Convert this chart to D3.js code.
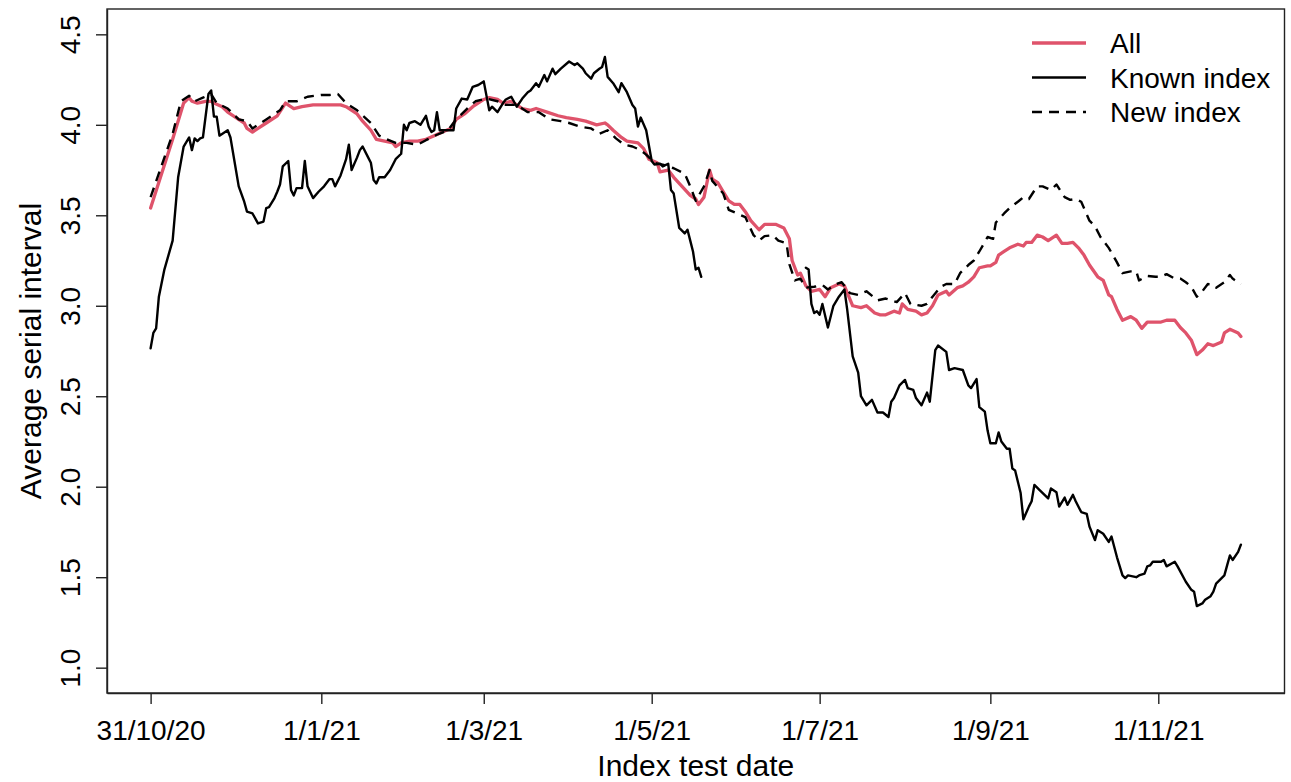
<!DOCTYPE html>
<html><head><meta charset="utf-8">
<script src="https://cdn.jsdelivr.net/npm/d3@7"></script>
<style>
body{margin:0;background:#fff}
svg{display:block}
text{font-family:"Liberation Sans",Arial,Helvetica,sans-serif;fill:#000}
</style>
</head><body>
<svg id="chart" width="1291" height="782"></svg>
<script>
// ---- data (day offsets from the first index test date, 31/10/20) ----
const startDate = "2020-10-31";
const lastDay = 396;

const allDays = [0,8,12,14,15,17,20,22,23,26,28,31,34,35,37,39,42,46,49,52,55,59,64,69,71,75,77,80,82,85,88,89,91,94,97,100,103,106,109,111,114,117,121,123,126,128,131,133,135,138,140,144,148,151,155,158,162,165,166,168,171,173,177,179,181,184,185,188,190,193,196,198,199,201,203,204,206,208,210,212,214,216,218,221,223,225,227,230,232,233,235,236,238,240,243,245,247,250,252,255,258,260,263,265,267,270,272,273,275,278,280,282,284,286,289,290,293,295,297,299,301,304,305,307,308,310,312,315,317,318,320,322,324,326,329,331,333,335,337,339,341,344,346,348,349,351,353,356,358,360,362,364,367,369,372,374,376,378,380,382,384,386,389,390,392,395,396];
const allValues = [3.54,3.92,4.12,4.15,4.13,4.12,4.13,4.13,4.12,4.10,4.07,4.04,4.01,3.98,3.96,3.98,4.01,4.05,4.12,4.09,4.10,4.11,4.11,4.11,4.10,4.06,4.02,3.97,3.92,3.91,3.90,3.88,3.90,3.91,3.91,3.92,3.94,3.96,3.98,4.03,4.06,4.10,4.14,4.15,4.14,4.12,4.13,4.11,4.09,4.08,4.09,4.07,4.05,4.04,4.03,4.02,4.00,4.01,4.00,3.97,3.93,3.91,3.90,3.87,3.81,3.79,3.74,3.75,3.71,3.66,3.61,3.59,3.56,3.60,3.75,3.70,3.68,3.63,3.58,3.56,3.56,3.52,3.47,3.42,3.45,3.45,3.45,3.43,3.37,3.25,3.17,3.18,3.11,3.08,3.09,3.05,3.10,3.12,3.11,3.00,2.99,3.00,2.96,2.95,2.95,2.97,2.96,3.01,2.98,2.97,2.95,2.96,3.00,3.06,3.08,3.06,3.10,3.11,3.13,3.16,3.21,3.22,3.22,3.24,3.28,3.30,3.32,3.34,3.33,3.35,3.35,3.39,3.38,3.36,3.39,3.345,3.345,3.35,3.32,3.28,3.225,3.16,3.14,3.06,3.05,2.98,2.92,2.94,2.92,2.875,2.91,2.91,2.91,2.92,2.92,2.88,2.85,2.81,2.73,2.755,2.79,2.78,2.80,2.85,2.87,2.85,2.83];

const knownDays = [0,1,2,3,5,8,10,12,14,15,16,17,18,19,21,22,23,24,25,28,29,32,34,35,37,39,41,42,43,45,46,47,48,50,51,52,53,55,56,57,59,61,63,65,66,67,69,71,72,73,75,76,77,79,80,81,82,83,85,87,89,91,92,93,94,96,98,100,101,102,103,104,105,108,110,111,113,115,117,119,121,122,123,124,126,128,129,131,133,135,137,138,140,141,143,144,146,147,149,152,154,155,157,158,160,161,163,164,165,166,168,170,171,173,175,176,177,178,180,182,183,185,186,188,189,190,192,194,195,196,197,198,199,200,219,238,239,240,241,242,243,244,246,248,250,252,253,255,257,258,260,262,264,266,268,269,270,272,274,275,277,278,280,282,283,285,286,289,290,292,295,297,298,300,301,303,304,305,307,308,309,311,312,313,314,316,317,319,320,321,323,326,327,329,330,332,333,335,336,338,340,341,343,344,346,348,349,351,353,354,355,358,359,361,362,363,364,367,368,369,372,373,376,378,379,380,382,383,385,386,387,389,390,391,392,393,395,396];
const knownValues = [2.765,2.85,2.875,3.05,3.20,3.36,3.71,3.88,3.93,3.86,3.925,3.91,3.925,3.93,4.17,4.19,4.045,4.045,3.94,3.97,3.93,3.66,3.575,3.52,3.51,3.455,3.465,3.54,3.545,3.595,3.63,3.67,3.77,3.80,3.64,3.61,3.65,3.65,3.80,3.66,3.595,3.63,3.66,3.70,3.70,3.66,3.72,3.81,3.89,3.75,3.82,3.86,3.88,3.82,3.79,3.695,3.676,3.71,3.71,3.75,3.81,3.84,4.00,3.97,4.01,4.02,4.00,4.05,3.99,3.96,3.97,4.07,3.97,3.97,3.97,4.09,4.145,4.14,4.21,4.22,4.24,4.16,4.08,4.10,4.07,4.12,4.14,4.155,4.10,4.145,4.18,4.19,4.23,4.21,4.275,4.24,4.31,4.28,4.31,4.35,4.33,4.34,4.31,4.285,4.255,4.285,4.31,4.32,4.375,4.265,4.23,4.18,4.23,4.18,4.11,4.09,3.99,4.04,3.97,3.80,3.78,3.785,3.77,3.785,3.64,3.62,3.43,3.40,3.42,3.36,3.30,3.20,3.21,3.16,null,3.21,3.20,3.01,2.96,2.97,2.95,3.01,2.88,3.00,3.05,3.09,2.98,2.72,2.63,2.50,2.45,2.48,2.41,2.41,2.385,2.47,2.49,2.56,2.59,2.545,2.535,2.49,2.45,2.52,2.47,2.755,2.78,2.745,2.645,2.655,2.645,2.56,2.545,2.595,2.44,2.415,2.31,2.24,2.24,2.30,2.25,2.21,2.21,2.10,2.09,1.965,1.82,1.89,1.92,2.01,1.98,1.935,1.99,1.97,1.89,1.94,1.90,1.955,1.92,1.86,1.85,1.78,1.705,1.76,1.74,1.695,1.725,1.61,1.51,1.495,1.51,1.50,1.51,1.52,1.56,1.565,1.585,1.585,1.595,1.56,1.585,1.56,1.475,1.43,1.42,1.34,1.355,1.375,1.395,1.42,1.465,1.495,1.51,1.565,1.62,1.595,1.64,1.68];

const newDays = [0,8,11,14,16,19,22,24,28,32,35,37,42,47,49,53,57,62,65,68,71,75,80,83,85,89,93,97,100,104,108,111,115,118,122,126,129,133,137,141,145,149,152,156,160,163,166,169,172,175,178,180,183,186,190,194,196,198,201,203,204,208,210,213,216,219,221,223,226,228,231,232,234,236,238,241,244,246,249,251,254,257,260,264,267,271,274,276,280,282,284,287,289,292,294,297,299,301,304,306,307,310,312,315,317,319,322,324,327,329,332,334,336,338,341,343,345,348,351,353,356,358,359,362,365,367,369,372,374,376,378,380,382,384,386,387,390,392,393,396];
const newValues = [3.60,3.95,4.13,4.16,4.13,4.15,4.17,4.12,4.09,4.03,4.02,3.98,4.03,4.08,4.13,4.13,4.155,4.165,4.165,4.17,4.12,4.08,4.01,3.94,3.925,3.90,3.90,3.89,3.915,3.945,3.97,4.03,4.09,4.13,4.145,4.13,4.11,4.11,4.07,4.07,4.03,4.02,4.01,3.99,3.98,3.95,3.97,3.925,3.89,3.88,3.86,3.835,3.79,3.78,3.76,3.73,3.66,3.58,3.66,3.75,3.69,3.62,3.53,3.51,3.49,3.39,3.36,3.385,3.39,3.36,3.345,3.23,3.14,3.15,3.10,3.105,3.115,3.09,3.12,3.13,3.07,3.06,3.08,3.03,3.04,3.02,3.07,3.01,3.00,3.01,3.05,3.105,3.12,3.12,3.18,3.225,3.25,3.30,3.38,3.37,3.46,3.51,3.54,3.575,3.60,3.59,3.66,3.66,3.64,3.67,3.60,3.585,3.59,3.575,3.47,3.44,3.38,3.32,3.24,3.18,3.19,3.19,3.14,3.165,3.16,3.16,3.175,3.15,3.15,3.13,3.105,3.05,3.08,3.12,3.115,3.10,3.13,3.17,3.15,3.12];

const xTickDates = ["2020-10-31","2021-01-01","2021-03-01","2021-05-01","2021-07-01","2021-09-01","2021-11-01"];
const xTickLabels = ["31/10/20","1/1/21","1/3/21","1/5/21","1/7/21","1/9/21","1/11/21"];
const yTicks = [1.0,1.5,2.0,2.5,3.0,3.5,4.0,4.5];
const yLimits = [1.0,4.5];

const legendLabels = ["All","Known index","New index"];
const xTitle = "Index test date";
const yTitle = "Average serial interval";

// ---- helpers ----
const FONT = '"Liberation Sans",Arial,sans-serif';
const parse = d3.utcParse("%Y-%m-%d");
const t0 = parse(startDate);
const toDate = d => d3.utcDay.offset(t0, d);
const mk = (days, vals) => days.map((d, i) => ({date: toDate(d), v: vals[i]}));

const svg = d3.select("#chart");
const L = 107, R = 1284.5, T = 9, B = 693;

const tEnd = toDate(lastDay);
const span = tEnd - t0;
const x = d3.scaleUtc()
  .domain([new Date(+t0 - 0.04 * span), new Date(+tEnd + 0.04 * span)])
  .range([L, R]);
const yr = yLimits[1] - yLimits[0];
const y = d3.scaleLinear()
  .domain([yLimits[0] - 0.04 * yr, yLimits[1] + 0.04 * yr])
  .range([B, T]);

// frame
svg.append("rect").attr("x", L).attr("y", T).attr("width", R - L).attr("height", B - T)
  .attr("fill", "none").attr("stroke", "#222").attr("stroke-width", 1.4);

// x axis
const xTicks = xTickDates.map(s => parse(s));
const xAxis = d3.axisBottom(x).tickValues(xTicks).tickSize(11).tickSizeOuter(0)
  .tickFormat((d, i) => xTickLabels[i]);
const gx = svg.append("g").attr("transform", `translate(0,${B})`).call(xAxis);
gx.select(".domain").attr("stroke", "#222").attr("stroke-width", 1.4);
gx.selectAll(".tick line").attr("stroke", "#222").attr("stroke-width", 1.4);
gx.selectAll(".tick text").attr("y", 47).attr("dy", null)
  .style("font-size", "28px").style("font-family", FONT).attr("fill", "#000");

// y axis
const yAxis = d3.axisLeft(y).tickValues(yTicks).tickSize(11).tickSizeOuter(0)
  .tickFormat(d3.format(".1f"));
const gy = svg.append("g").attr("transform", `translate(${L},0)`).call(yAxis);
gy.select(".domain").attr("stroke", "#222").attr("stroke-width", 1.4);
gy.selectAll(".tick line").attr("stroke", "#222").attr("stroke-width", 1.4);
gy.selectAll(".tick text").attr("x", null).attr("dy", null)
  .attr("transform", "translate(-27,0) rotate(-90)")
  .attr("text-anchor", "middle")
  .style("font-size", "28px").style("font-family", FONT).attr("fill", "#000");

// titles
svg.append("text").attr("x", (L + R) / 2).attr("y", 776).attr("text-anchor", "middle")
  .style("font-size", "30px").text(xTitle);
svg.append("text").attr("transform", `translate(41,${(T + B) / 2}) rotate(-90)`)
  .attr("text-anchor", "middle").style("font-size", "30px").text(yTitle);

// lines
const line = d3.line().defined(d => d.v != null).x(d => x(d.date)).y(d => y(d.v));
const g = svg.append("g").attr("fill", "none").attr("stroke-linejoin", "round").attr("stroke-linecap", "round");
const RED = "#DF536B";
g.append("path").datum(mk(allDays, allValues)).attr("d", line)
  .attr("stroke", RED).attr("stroke-width", 3.3);
g.append("path").datum(mk(knownDays, knownValues)).attr("d", line)
  .attr("stroke", "#000").attr("stroke-width", 2.4);
g.append("path").datum(mk(newDays, newValues)).attr("d", line)
  .attr("stroke", "#000").attr("stroke-width", 2.4).attr("stroke-linecap", "butt")
  .attr("stroke-dasharray", "10,7");

// legend
const styles = [
  {stroke: RED, w: 3.3, dash: null},
  {stroke: "#000", w: 2.4, dash: null},
  {stroke: "#000", w: 2.4, dash: "10,7"}
];
const lg = svg.append("g");
legendLabels.forEach((lab, i) => {
  const yy = 43 + i * 34.5;
  lg.append("line").attr("x1", 1032).attr("x2", 1086).attr("y1", yy).attr("y2", yy)
    .attr("stroke", styles[i].stroke).attr("stroke-width", styles[i].w)
    .attr("stroke-dasharray", styles[i].dash);
  lg.append("text").attr("x", 1110).attr("y", yy + 10).style("font-size", "28px").text(lab);
});
</script>
</body></html>
